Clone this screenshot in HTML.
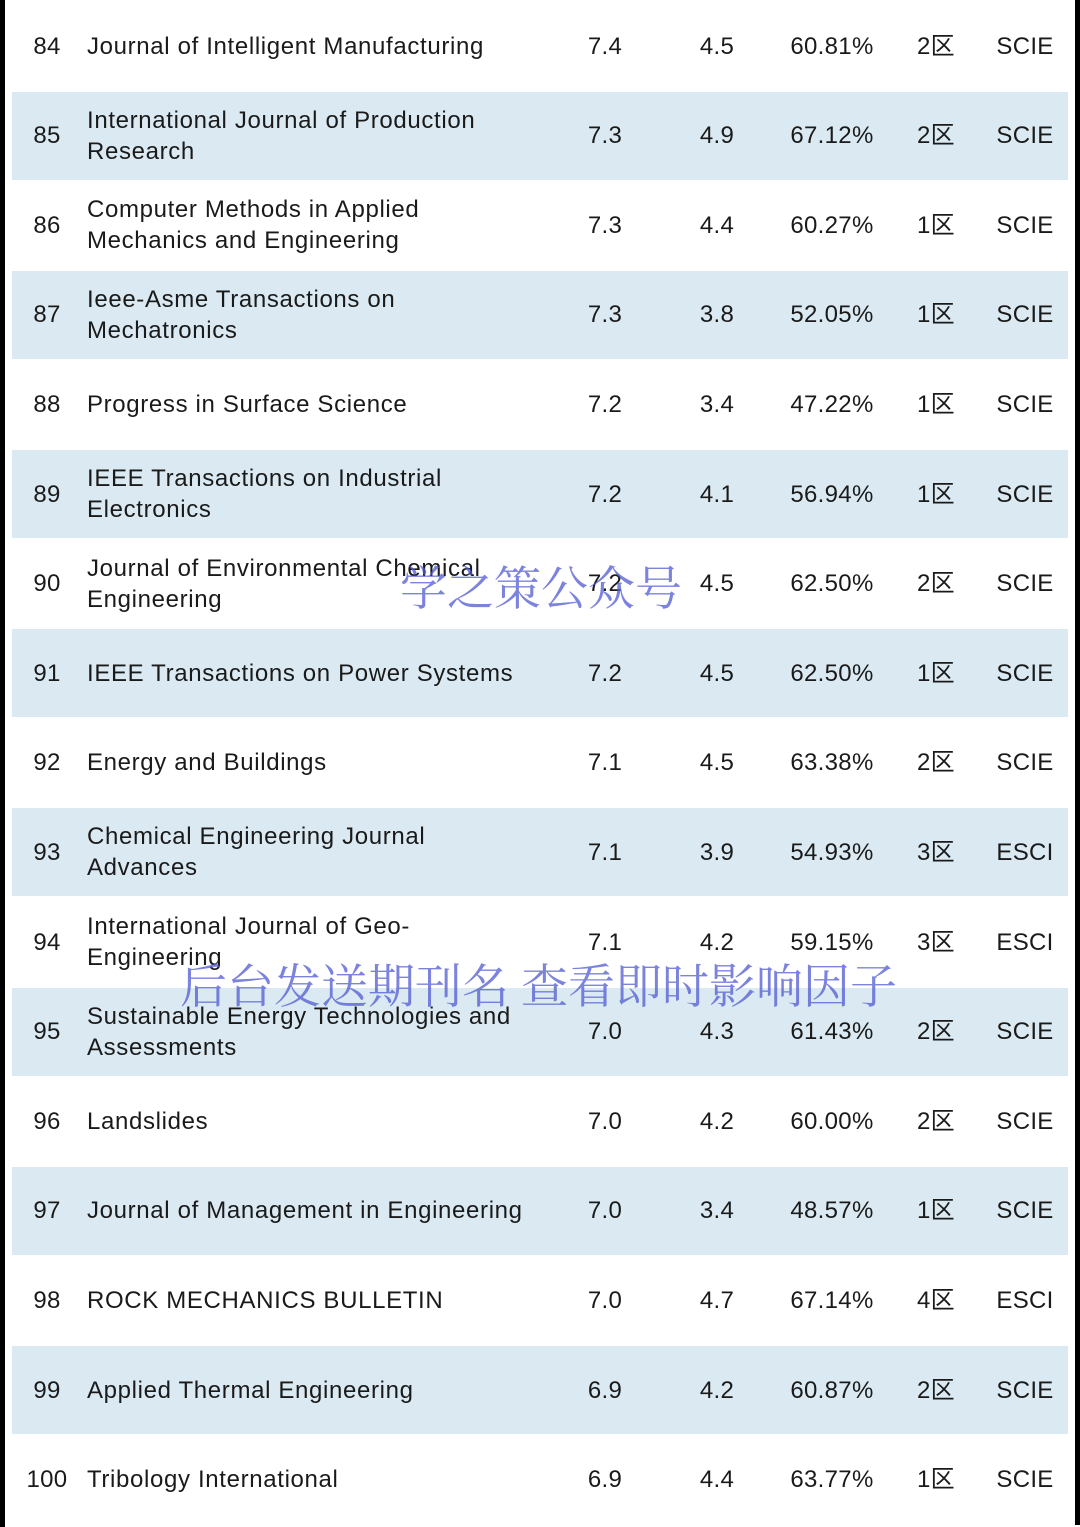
<!DOCTYPE html>
<html><head><meta charset="utf-8"><style>
body{margin:0;width:1080px;height:1527px;background:#fff;position:relative;overflow:hidden;font-family:"Liberation Sans","Noto Sans CJK SC",sans-serif;color:#1a1a1a}
.bl{position:absolute;left:0;top:0;width:5px;height:1527px;background:#000}
.br{position:absolute;left:1075px;top:0;width:5px;height:1525px;background:#000}
.row{position:absolute;left:12px;width:1056px;height:88px}
.row.s{background:#dbeaf2}
.c{position:absolute;top:0;height:88px;display:flex;align-items:center;font-size:24px;line-height:31px;letter-spacing:0.3px}
.num{left:0;width:70px;justify-content:center}
.name{left:75px;width:470px;letter-spacing:0.65px}
.v1{left:553px;width:80px;justify-content:center}
.v2{left:665px;width:80px;justify-content:center}
.v3{left:760px;width:120px;justify-content:center}
.v4{left:884px;width:80px;justify-content:center}
.v5{left:973px;width:80px;justify-content:center}
.wm{position:absolute;font-family:"Noto Serif CJK SC",serif;color:rgba(80,90,210,0.75);white-space:nowrap;line-height:1}
</style></head><body>
<div class="bl"></div>
<div class="br"></div>
<div id="tbl"></div>
<div class="wm" style="left:400px;top:562px;font-size:47px">学之策公众号</div>
<div class="wm" style="left:180px;top:960px;font-size:47px">后台发送期刊名 查看即时影响因子</div>
<script>
const ranks=[84,85,86,87,88,89,90,91,92,93,94,95,96,97,98,99,100];
const names=["Journal of Intelligent Manufacturing","International Journal of Production<br>Research","Computer Methods in Applied<br>Mechanics and Engineering","Ieee-Asme Transactions on<br>Mechatronics","Progress in Surface Science","IEEE Transactions on Industrial<br>Electronics","Journal of Environmental Chemical<br>Engineering","IEEE Transactions on Power Systems","Energy and Buildings","Chemical Engineering Journal<br>Advances","International Journal of Geo-<br>Engineering","Sustainable Energy Technologies and<br>Assessments","Landslides","Journal of Management in Engineering","ROCK MECHANICS BULLETIN","Applied Thermal Engineering","Tribology International"];
const impact=["7.4","7.3","7.3","7.3","7.2","7.2","7.2","7.2","7.1","7.1","7.1","7.0","7.0","7.0","7.0","6.9","6.9"];
const fiveYear=["4.5","4.9","4.4","3.8","3.4","4.1","4.5","4.5","4.5","3.9","4.2","4.3","4.2","3.4","4.7","4.2","4.4"];
const pct=["60.81%","67.12%","60.27%","52.05%","47.22%","56.94%","62.50%","62.50%","63.38%","54.93%","59.15%","61.43%","60.00%","48.57%","67.14%","60.87%","63.77%"];
const zone=["2区","2区","1区","1区","1区","1区","2区","1区","2区","3区","3区","2区","2区","1区","4区","2区","1区"];
const index=["SCIE","SCIE","SCIE","SCIE","SCIE","SCIE","SCIE","SCIE","SCIE","ESCI","ESCI","SCIE","SCIE","SCIE","ESCI","SCIE","SCIE"];
const tbl=document.getElementById('tbl');
ranks.forEach((r,i)=>{
  const row=document.createElement('div');
  row.className='row'+(i%2?' s':'');
  row.style.top=(2+i*89.6)+'px';
  
  
  const cells=[['num',r],['name',names[i]],['v1',impact[i]],['v2',fiveYear[i]],['v3',pct[i]],['v4',zone[i]],['v5',index[i]]];
  cells.forEach(([k,v])=>{
    const c=document.createElement('div');
    c.className='c '+k;
    c.innerHTML='<span>'+v+'</span>';
    
    
    row.appendChild(c);
  });
  tbl.appendChild(row);
});
</script>
</body></html>
